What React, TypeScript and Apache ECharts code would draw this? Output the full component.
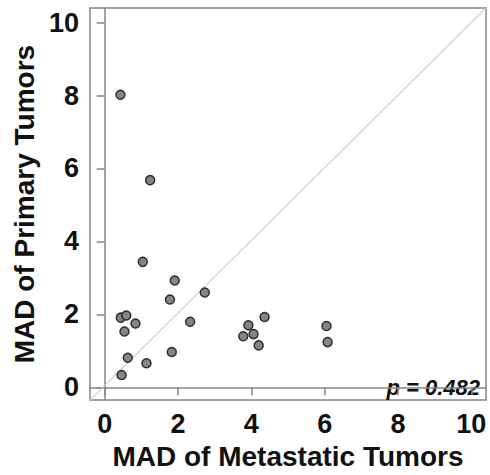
import React, { useEffect, useRef } from "react";
import * as echarts from "echarts";

const metastatic = [0.43, 1.24, 1.04, 1.91, 1.78, 2.73, 0.44, 0.59, 0.84, 0.54, 2.33, 0.63, 1.83, 1.14, 0.46, 3.78, 3.92, 4.06, 4.2, 4.36, 6.05, 6.08];
const primary = [8.02, 5.68, 3.44, 2.93, 2.41, 2.6, 1.91, 1.97, 1.75, 1.53, 1.8, 0.81, 0.97, 0.66, 0.34, 1.4, 1.7, 1.46, 1.15, 1.93, 1.68, 1.24];
const tickValues = [0, 2, 4, 6, 8, 10];
const refLine = [[-0.4, -0.35], [10.4, 10.4]];
const xTitle = "MAD of Metastatic Tumors";
const yTitle = "MAD of Primary Tumors";
const pText = "p = 0.482";

const FONT = "Liberation Sans";
const AXIS_COLOR = "#858585";

export default function App() {
  const ref = useRef<HTMLDivElement>(null);
  useEffect(() => {
    if (!ref.current) return;
    const chart = echarts.init(ref.current, null, { renderer: "svg" });
    const axisCommon = (name: string, min: number, max: number, gap: number, margin: number) => ({
      type: "value" as const,
      min,
      max,
      name,
      nameLocation: "middle" as const,
      nameGap: gap,
      nameTextStyle: { fontFamily: FONT, fontWeight: "bold" as const, fontSize: 28, color: "#111" },
      axisLine: { show: true, lineStyle: { color: AXIS_COLOR, width: 1.5 } },
      axisTick: { show: true, inside: false, length: 8, customValues: tickValues, lineStyle: { color: AXIS_COLOR, width: 1.5 } },
      axisLabel: { show: true, customValues: tickValues, fontFamily: FONT, fontWeight: "bold" as const, fontSize: 27, color: "#111", margin },
      splitLine: { show: false },
    });
    chart.setOption({
      animation: false,
      grid: { left: 90, top: 8, right: 4, bottom: 71, show: true, borderColor: AXIS_COLOR, borderWidth: 1.5, containLabel: false },
      xAxis: axisCommon(xTitle, -0.4, 10.4, 41, 10),
      yAxis: { ...axisCommon(yTitle, -0.35, 10.4, 45, 11), nameRotate: 90 },
      series: [
        {
          type: "line",
          data: refLine,
          symbol: "none",
          silent: true,
          lineStyle: { color: "#cfcfcf", width: 1.2 },
          z: 1,
        },
        {
          type: "scatter",
          data: metastatic.map((x, i) => [x, primary[i]]),
          symbol: "circle",
          symbolSize: 9,
          itemStyle: { color: "#858585", borderColor: "#2e2e2e", borderWidth: 1.5, opacity: 1 },
          z: 3,
        },
      ],
      graphic: [
        {
          type: "text",
          right: 10,
          top: 376,
          style: { text: pText, font: `italic bold 22px "${FONT}"`, fill: "#111" },
        },
      ],
    });
    return () => chart.dispose();
  }, []);
  return <div ref={ref} style={{ position: "absolute", left: 0, top: 0, width: 490, height: 475 }} />;
}
